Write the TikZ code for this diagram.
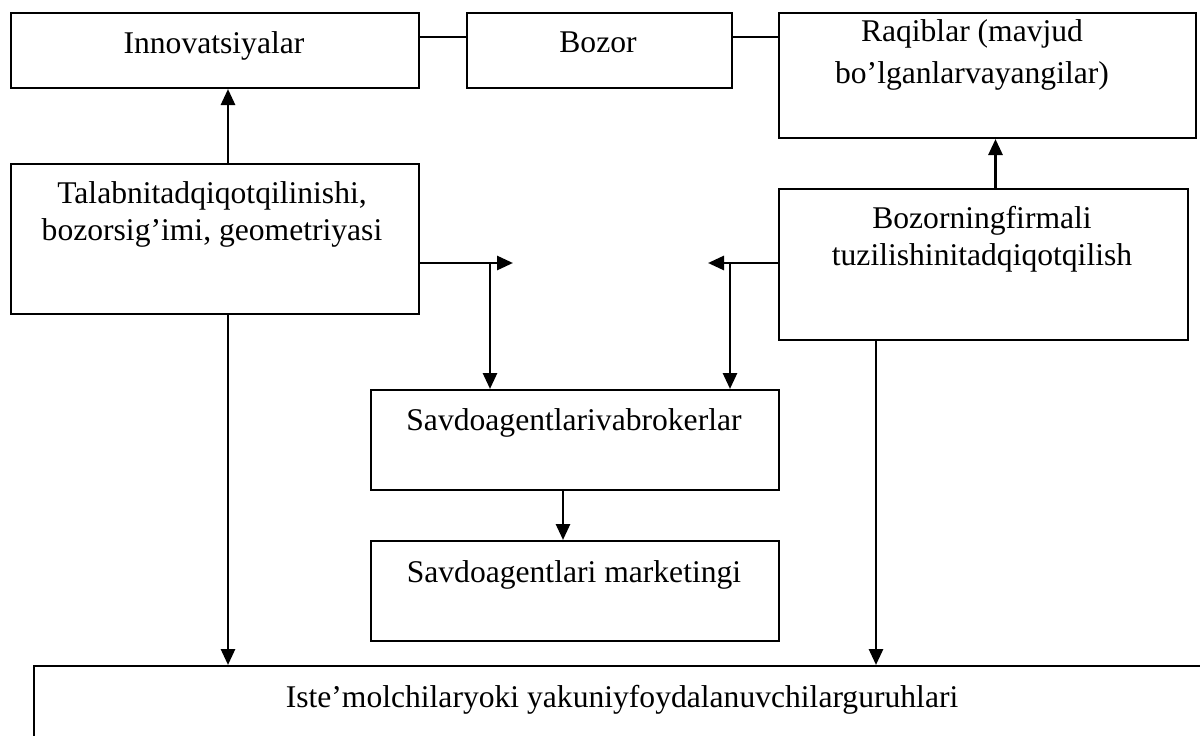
\documentclass[tikz,border=0pt]{standalone}
\usepackage{fontspec}
\setmainfont{Liberation Serif}
\usetikzlibrary{arrows.meta,positioning,calc}

\begin{document}
\begin{tikzpicture}[x=1pt,y=-1pt,
  box/.style={draw,line width=2pt,inner sep=0pt,anchor=north west},
  lbl/.style={inner sep=0pt,anchor=north,align=center,font=\fontsize{31.6}{37}\selectfont},
  arr/.style={line width=2.8pt,-{Triangle[length=16pt,width=14pt]}},
  lnk/.style={line width=2pt}]
\useasboundingbox (0,0) rectangle (1200,736);
\clip (0,0) rectangle (1200,736);
% boxes
\node[box,minimum width=408pt,minimum height=75pt] (innov) at (10,12) {};
\node[box,minimum width=265pt,minimum height=75pt] (bozor) at (466,12) {};
\node[box,minimum width=417pt,minimum height=125pt] (raqib) at (778,12) {};
\node[box,minimum width=408pt,minimum height=150pt] (talab) at (10,163) {};
\node[box,minimum width=409pt,minimum height=151pt] (bozfirm) at (778,188) {};
\node[box,minimum width=408pt,minimum height=100pt] (savdo) at (370,389) {};
\node[box,minimum width=408pt,minimum height=100pt] (market) at (370,540) {};
\node[box,minimum width=1190pt,minimum height=100pt] (iste) at (33,665) {};
% texts
\node[lbl] (innov-t) at (214,31.4) {Innovatsiyalar};
\node[lbl] (bozor-t) at (598,31.4) {Bozor};
\node[lbl,font=\fontsize{31.6}{42}\selectfont] (raqib-t) at (972,19.4) {Raqiblar (mavjud\\bo’lganlarvayangilar)};
\node[lbl] (talab-t) at (212,181.4) {Talabnitadqiqotqilinishi,\\bozorsig’imi, geometriyasi};
\node[lbl] (bozfirm-t) at (982,206.4) {Bozorningfirmali\\tuzilishinitadqiqotqilish};
\node[lbl] (savdo-t) at (574,408.4) {Savdoagentlarivabrokerlar};
\node[lbl] (market-t) at (574,560.4) {Savdoagentlari marketingi};
\node[lbl] (iste-t) at (622,685.4) {Iste’molchilaryoki yakuniyfoydalanuvchilarguruhlari};
% top links
\draw[lnk] ([yshift=-25pt]innov.north east) -- ([yshift=-25pt]bozor.north west);
\draw[lnk] ([yshift=-25pt]bozor.north east) -- ([yshift=-25pt]raqib.north west);
% upward arrows
\draw[arr] ([xshift=13pt]talab.north) -- ([xshift=13pt]talab.north |- innov.south);
\draw[arr] ([xshift=12pt]bozfirm.north) -- ([xshift=12pt]bozfirm.north |- raqib.south);
% forks into the middle
\coordinate (lsplit) at (490,263);
\coordinate (ltip) at (513,263);
\coordinate (rsplit) at (730,263);
\coordinate (rtip) at (708,263);
\draw[arr] (talab.east |- ltip) -- (ltip);
\draw[arr] (lsplit) -- (lsplit |- savdo.north);
\draw[arr] (bozfirm.west |- rtip) -- (rtip);
\draw[arr] (rsplit) -- (rsplit |- savdo.north);
\draw[arr] ([xshift=-12pt]savdo.south) -- ([xshift=-12pt]market.north);
% down to the consumers
\draw[arr] ([xshift=13pt]talab.south) -- ([xshift=13pt]talab.south |- iste.north);
\draw[arr] ([xshift=-107.5pt]bozfirm.south) -- ([xshift=-107.5pt]bozfirm.south |- iste.north);
\end{tikzpicture}
\end{document}
